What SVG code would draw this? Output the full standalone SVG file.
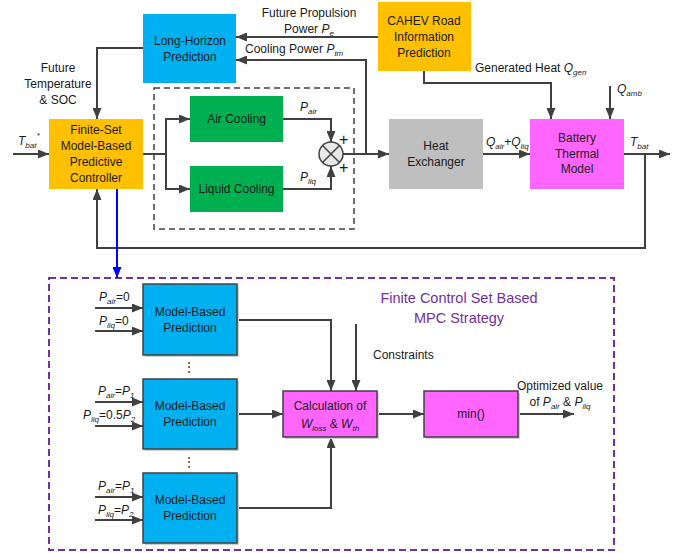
<svg xmlns="http://www.w3.org/2000/svg" width="686" height="553" viewBox="0 0 686 553">
<style>
text{font-family:"Liberation Sans",Arial,sans-serif;font-size:12px;fill:#1a1a1a}
.c{text-anchor:middle}
.i{font-style:italic}
.s{font-size:8px;font-style:italic}
.ln{fill:none;stroke:#404040;stroke-width:2}
.ar{marker-end:url(#ah)}
.bx{stroke:none}
.bb{stroke:#404040;stroke-width:1.5}
.sh{fill:#d0d0d0}
.ttl{font-size:14.5px;fill:#7030A0}
</style>
<defs>
<marker id="ah" viewBox="0 0 11 9" refX="11" refY="4.5" markerWidth="11" markerHeight="9" markerUnits="userSpaceOnUse" orient="auto"><path d="M0,0 L11,4.5 L0,9 z" fill="#404040"/></marker>
<marker id="ahb" viewBox="0 0 11 9" refX="11" refY="4.5" markerWidth="11" markerHeight="9" markerUnits="userSpaceOnUse" orient="auto"><path d="M0,0 L11,4.5 L0,9 z" fill="#0000FF"/></marker>
</defs>
<rect width="686" height="553" fill="#ffffff"/>

<!-- dashed containers -->
<rect x="154" y="88" width="200" height="141" fill="none" stroke="#404040" stroke-width="1.5" stroke-dasharray="6,4"/>
<rect x="49" y="278" width="565" height="272" fill="none" stroke="#7030A0" stroke-width="2" stroke-dasharray="7,4"/>

<g id="connectors">
<path class="ln ar" d="M13,154 H49"/>
<path class="ln ar" d="M143,48 H97 V119"/>
<path class="ln" d="M143,154 H166"/>
<path class="ln ar" d="M166,154 V119 H190"/>
<path class="ln ar" d="M166,154 V189 H190"/>
<path class="ln ar" d="M283,119 H331 V142"/>
<path class="ln ar" d="M283,189 H331 V166"/>
<path class="ln ar" d="M343,154 H389"/>
<path class="ln ar" d="M366,154 V60 H236"/>
<path class="ln ar" d="M378,37 H236"/>
<path class="ln ar" d="M424,71 V83 H551 V119"/>
<path class="ln ar" d="M610,86 V119"/>
<path class="ln ar" d="M483,154 H530"/>
<path class="ln ar" d="M624,154 H670"/>
<path class="ln ar" d="M645,154 V248 H97 V189"/>
<path fill="none" stroke="#0000FF" stroke-width="2" marker-end="url(#ahb)" d="M117,189 V278"/>
<path class="ln ar" d="M95,308 H143"/>
<path class="ln ar" d="M95,331 H143"/>
<path class="ln ar" d="M95,402 H143"/>
<path class="ln ar" d="M95,426 H143"/>
<path class="ln ar" d="M95,497 H143"/>
<path class="ln ar" d="M95,520 H143"/>
<path class="ln ar" d="M237,320 H331 V391"/>
<path class="ln ar" d="M356,324 V391"/>
<path class="ln ar" d="M237,414 H283"/>
<path class="ln ar" d="M237,508 H331 V437"/>
<path class="ln ar" d="M377,414 H424"/>
<path class="ln ar" d="M518,414 H574"/>
</g>

<g id="long-horizon">
<rect class="bx" x="143" y="14" width="93" height="69" fill="#00B0F0"/>
<text class="c" x="190" y="45">Long-Horizon</text>
<text class="c" x="190" y="61">Prediction</text>
</g>
<g id="cahev">
<rect class="bx" x="378" y="2" width="93" height="69" fill="#FFC000"/>
<text class="c" x="424" y="25">CAHEV Road</text>
<text class="c" x="424" y="41">Information</text>
<text class="c" x="424" y="57">Prediction</text>
</g>
<g id="controller">
<rect class="bx" x="49" y="119" width="94" height="70" fill="#FFC000"/>
<text class="c" x="96" y="134">Finite-Set</text>
<text class="c" x="96" y="150">Model-Based</text>
<text class="c" x="96" y="166">Predictive</text>
<text class="c" x="96" y="182">Controller</text>
</g>
<g id="air-cooling">
<rect class="bx" x="190" y="96" width="93" height="46" fill="#00B050"/>
<text class="c" x="236.5" y="123">Air Cooling</text>
</g>
<g id="liquid-cooling">
<rect class="bx" x="190" y="166" width="93" height="46" fill="#00B050"/>
<text class="c" x="236.5" y="193">Liquid Cooling</text>
</g>
<g id="sum">
<circle cx="331" cy="154" r="12" fill="#e8e8e8" stroke="#404040" stroke-width="1.5"/>
<path d="M322.5,145.5 L339.5,162.5 M339.5,145.5 L322.5,162.5" stroke="#404040" stroke-width="1.5"/>
<text x="339" y="145" style="font-size:16px">+</text>
<text x="339" y="173" style="font-size:16px">+</text>
</g>
<g id="heat-exchanger">
<rect class="bx" x="389" y="119" width="94" height="70" fill="#BFBFBF"/>
<text class="c" x="436" y="150">Heat</text>
<text class="c" x="436" y="166">Exchanger</text>
</g>
<g id="battery">
<rect class="bx" x="530" y="119" width="94" height="70" fill="#FF66FF"/>
<text class="c" x="577" y="142">Battery</text>
<text class="c" x="577" y="158">Thermal</text>
<text class="c" x="577" y="173">Model</text>
</g>

<!-- top labels -->
<text x="18" y="145"><tspan class="i">T</tspan><tspan class="s" dy="3">bat</tspan><tspan class="s" dy="-10">*</tspan></text>
<text class="c" x="58" y="72">Future</text>
<text class="c" x="58" y="88">Temperature</text>
<text class="c" x="58" y="104">&amp; SOC</text>
<text class="c" x="309" y="17">Future Propulsion</text>
<text class="c" x="309" y="33">Power <tspan class="i">P</tspan><tspan class="s" dy="3">e</tspan></text>
<text x="245" y="53">Cooling Power <tspan class="i">P</tspan><tspan class="s" dy="3">tm</tspan></text>
<text x="300" y="111"><tspan class="i">P</tspan><tspan class="s" dy="3">air</tspan></text>
<text x="300" y="181"><tspan class="i">P</tspan><tspan class="s" dy="3">liq</tspan></text>
<text x="475" y="72">Generated Heat <tspan class="i">Q</tspan><tspan class="s" dy="3">gen</tspan></text>
<text x="617" y="93"><tspan class="i">Q</tspan><tspan class="s" dy="3">amb</tspan></text>
<text x="486" y="146"><tspan class="i">Q</tspan><tspan class="s" dy="3">air</tspan><tspan dy="-3">+</tspan><tspan class="i">Q</tspan><tspan class="s" dy="3">liq</tspan></text>
<text x="630" y="146"><tspan class="i">T</tspan><tspan class="s" dy="3">bat</tspan></text>

<!-- bottom -->
<g id="mbp1">
<rect class="sh" x="145" y="286" width="94" height="71"/>
<rect class="bb" x="143" y="284" width="94" height="71" fill="#00B0F0"/>
<text class="c" x="190" y="316">Model-Based</text>
<text class="c" x="190" y="332">Prediction</text>
</g>
<g id="mbp2">
<rect class="sh" x="145" y="381" width="94" height="70"/>
<rect class="bb" x="143" y="379" width="94" height="70" fill="#00B0F0"/>
<text class="c" x="190" y="410">Model-Based</text>
<text class="c" x="190" y="426">Prediction</text>
</g>
<g id="mbp3">
<rect class="sh" x="145" y="475" width="94" height="70"/>
<rect class="bb" x="143" y="473" width="94" height="70" fill="#00B0F0"/>
<text class="c" x="190" y="504">Model-Based</text>
<text class="c" x="190" y="520">Prediction</text>
</g>
<g id="calc">
<rect class="sh" x="285" y="393" width="94" height="46"/>
<rect class="bb" x="283" y="391" width="94" height="46" fill="#FF66FF"/>
<text class="c" x="330" y="410">Calculation of</text>
<text class="c" x="330" y="428"><tspan class="i">W</tspan><tspan class="s" dy="3">loss</tspan><tspan dy="-3"> &amp; </tspan><tspan class="i">W</tspan><tspan class="s" dy="3">th</tspan></text>
</g>
<g id="min">
<rect class="sh" x="426" y="393" width="94" height="46"/>
<rect class="bb" x="424" y="391" width="94" height="46" fill="#FF66FF"/>
<text class="c" x="471" y="418">min()</text>
</g>

<text x="99" y="301"><tspan class="i">P</tspan><tspan class="s" dy="2.5">air</tspan><tspan dy="-2.5">=0</tspan></text>
<text x="99" y="325"><tspan class="i">P</tspan><tspan class="s" dy="2.5">liq</tspan><tspan dy="-2.5">=0</tspan></text>
<text x="98" y="395"><tspan class="i">P</tspan><tspan class="s" dy="2.5">air</tspan><tspan dy="-2.5">=</tspan><tspan class="i">P</tspan><tspan class="s" dy="2.5">1</tspan></text>
<text x="83" y="419"><tspan class="i">P</tspan><tspan class="s" dy="2.5">liq</tspan><tspan dy="-2.5">=0.5</tspan><tspan class="i">P</tspan><tspan class="s" dy="2.5">2</tspan></text>
<text x="98" y="490"><tspan class="i">P</tspan><tspan class="s" dy="2.5">air</tspan><tspan dy="-2.5">=</tspan><tspan class="i">P</tspan><tspan class="s" dy="2.5">1</tspan></text>
<text x="98" y="514"><tspan class="i">P</tspan><tspan class="s" dy="2.5">liq</tspan><tspan dy="-2.5">=</tspan><tspan class="i">P</tspan><tspan class="s" dy="2.5">2</tspan></text>
<text class="c" x="189" y="371">⋮</text>
<text class="c" x="189" y="466">⋮</text>
<text class="c ttl" x="459" y="303">Finite Control Set Based</text>
<text class="c ttl" x="459" y="323">MPC Strategy</text>
<text x="373" y="359">Constraints</text>
<text class="c" x="560" y="390">Optimized value</text>
<text class="c" x="560" y="406">of <tspan class="i">P</tspan><tspan class="s" dy="3">air</tspan><tspan dy="-3"> &amp; </tspan><tspan class="i">P</tspan><tspan class="s" dy="3">liq</tspan></text>
</svg>
